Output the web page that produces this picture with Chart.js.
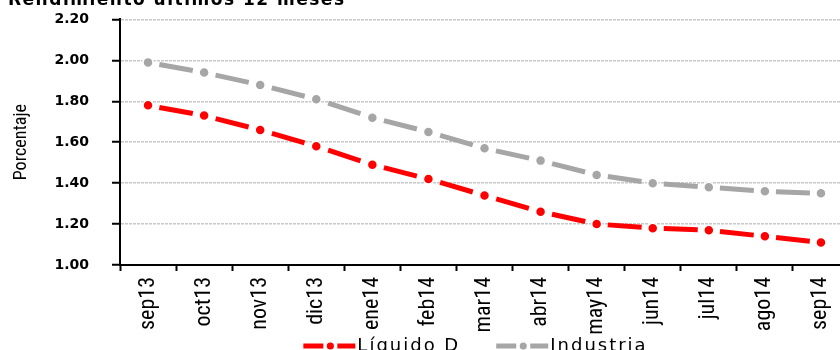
<!DOCTYPE html>
<html lang="es">
<head>
<meta charset="utf-8">
<title>Rendimiento últimos 12 meses</title>
<script src="https://cdn.jsdelivr.net/npm/chart.js@4.4.1/dist/chart.umd.min.js"></script>
<style>
  html, body { margin: 0; padding: 0; background: #fff; }
  body { width: 840px; height: 350px; overflow: hidden; position: relative; }
  #wrap { position: absolute; left: 0; top: -20px; width: 860px; height: 419px; }
</style>
</head>
<body>
<div id="wrap"><canvas id="chart"></canvas></div>
<script>
// Monthly categories
const months = ['sep13', 'oct13', 'nov13', 'dic13', 'ene14', 'feb14', 'mar14',
                'abr14', 'may14', 'jun14', 'jul14', 'ago14', 'sep14'];

// Series (percent)
const liquidoD  = [1.78, 1.73, 1.66, 1.58, 1.49, 1.42, 1.34, 1.26, 1.20, 1.18, 1.17, 1.14, 1.11];
const industria = [1.99, 1.94, 1.88, 1.81, 1.72, 1.65, 1.57, 1.51, 1.44, 1.40, 1.38, 1.36, 1.35];

const seriesNames  = ['Líquido D', 'Industria'];
const seriesColors = ['#ff0000', '#a6a6a6'];

// Value axis
const yMin = 1.00, yMax = 2.20, yStep = 0.20;

const chartTitle = 'Rendimiento últimos 12 meses';
const yTitle = 'Porcentaje';

const NARROW = "'Liberation Sans Narrow', 'Roboto Condensed', 'DejaVu Sans Condensed', sans-serif";
const WIDE = "'DejaVu Sans', Verdana, sans-serif";

// One long dash centred between each pair of points
const DASH = 34;
const segLen = c => Math.hypot(c.p1.x - c.p0.x, c.p1.y - c.p0.y);
const segment = {
  borderDash: c => { const L = segLen(c); return [DASH, Math.max(L - DASH, 0.5)]; },
  borderDashOffset: c => -(segLen(c) - DASH) / 2
};

function makeDataset(label, data, color) {
  return {
    label, data,
    borderColor: color,
    backgroundColor: color,
    borderWidth: 5,
    borderCapStyle: 'butt',
    tension: 0,
    segment,
    pointRadius: 5,
    pointBackgroundColor: color,
    pointBorderColor: '#ffffff',
    pointBorderWidth: 1.5,
    clip: false
  };
}

// Draw text of an element with extra tracking
function tracked(obj, method, px) {
  if (!obj || obj['_tracked_' + method]) return;
  const orig = obj[method];
  obj[method] = function (...args) {
    const ctx = this.ctx;
    const prev = ctx.letterSpacing;
    ctx.letterSpacing = px + 'px';
    try { return orig.apply(this, args); } finally { ctx.letterSpacing = prev; }
  };
  obj['_tracked_' + method] = true;
}

// Legend row is drawn a little higher and to the left of its box
const LEGEND_SHIFT = { x: -9, y: -34 };
function shiftLegend(legend) {
  if (!legend || legend._shifted) return;
  const orig = legend.draw;
  legend.draw = function (...args) {
    const ctx = this.ctx;
    ctx.save();
    ctx.translate(LEGEND_SHIFT.x, LEGEND_SHIFT.y);
    try { return orig.apply(this, args); } finally { ctx.restore(); }
  };
  legend._shifted = true;
}

const textLayoutPlugin = {
  id: 'textLayout',
  afterInit(chart) {
    tracked(chart.legend, 'fit', 2);
    tracked(chart.legend, 'draw', 2);
    shiftLegend(chart.legend);
    tracked(chart.titleBlock, 'draw', 1.5);
  }
};

// Legend keys: dash - dot - dash
const legendKeyPlugin = {
  id: 'legendKey',
  afterDraw(chart) {
    const lg = chart.legend;
    if (!lg || !lg.legendHitBoxes) return;
    const ctx = chart.ctx;
    lg.legendHitBoxes.forEach((hb, i) => {
      const color = seriesColors[i];
      const cy = hb.top + hb.height / 2 + LEGEND_SHIFT.y;
      const x0 = hb.left + LEGEND_SHIFT.x;
      ctx.save();
      ctx.strokeStyle = color;
      ctx.lineWidth = 5;
      ctx.lineCap = 'butt';
      ctx.beginPath();
      ctx.moveTo(x0, cy); ctx.lineTo(x0 + 20, cy);
      ctx.moveTo(x0 + 34, cy); ctx.lineTo(x0 + 52, cy);
      ctx.stroke();
      ctx.beginPath();
      ctx.arc(x0 + 27, cy, 4.2, 0, Math.PI * 2);
      ctx.fillStyle = color;
      ctx.fill();
      ctx.lineWidth = 1.2;
      ctx.strokeStyle = '#ffffff';
      ctx.stroke();
      ctx.restore();
    });
  }
};

new Chart(document.getElementById('chart'), {
  type: 'line',
  data: {
    labels: months,
    datasets: [
      makeDataset(seriesNames[0], liquidoD, seriesColors[0]),
      makeDataset(seriesNames[1], industria, seriesColors[1])
    ]
  },
  plugins: [textLayoutPlugin, legendKeyPlugin],
  options: {
    responsive: true,
    maintainAspectRatio: false,
    animation: false,
    events: [],
    layout: { padding: { left: 8, right: 11, top: 0, bottom: 0 } },
    scales: {
      x: {
        offset: true,
        grid: {
          display: true,
          offset: true,
          drawOnChartArea: false,
          drawTicks: true,
          tickLength: 6,
          tickColor: '#000',
          tickWidth: 2
        },
        border: { display: true, color: '#000', width: 2 },
        ticks: {
          autoSkip: false,
          minRotation: 90,
          maxRotation: 90,
          padding: 6,
          color: '#000',
          font: { family: NARROW, size: 22 },
          z: 1
        },
        afterFit(scale) { scale.height = 70; }
      },
      y: {
        min: yMin,
        max: yMax,
        grid: {
          color: '#c8c8c8',
          lineWidth: 1.5,
          drawTicks: true,
          tickLength: 8,
          tickColor: '#000',
          tickWidth: 2
        },
        border: { display: true, color: '#000', width: 2, dash: [3, 1] },
        ticks: {
          stepSize: yStep,
          padding: 23,
          color: '#000',
          font: { family: WIDE, size: 14, weight: 'bold' },
          callback: v => Number(v).toFixed(2)
        },
        title: {
          display: true,
          text: yTitle,
          color: '#000',
          font: { family: NARROW, size: 18 },
          padding: { top: 3, bottom: 0 }
        },
        afterFit(scale) { scale.width = 112; }
      }
    },
    plugins: {
      title: {
        display: true,
        text: chartTitle,
        align: 'start',
        color: '#000',
        font: { family: WIDE, size: 17, weight: 'bold' },
        padding: { top: 10, bottom: 9 }
      },
      legend: {
        display: true,
        position: 'bottom',
        fullSize: false,
        labels: {
          color: '#000',
          font: { family: WIDE, size: 18 },
          boxWidth: 45,
          boxHeight: 8,
          padding: 36,
          generateLabels(chart) {
            return chart.data.datasets.map((ds, i) => ({
              text: ds.label,
              fillStyle: 'rgba(0,0,0,0)',
              strokeStyle: 'rgba(0,0,0,0)',
              lineWidth: 0,
              fontColor: '#000',
              hidden: false,
              datasetIndex: i
            }));
          }
        }
      },
      tooltip: { enabled: false }
    }
  }
});
</script>
</body>
</html>
